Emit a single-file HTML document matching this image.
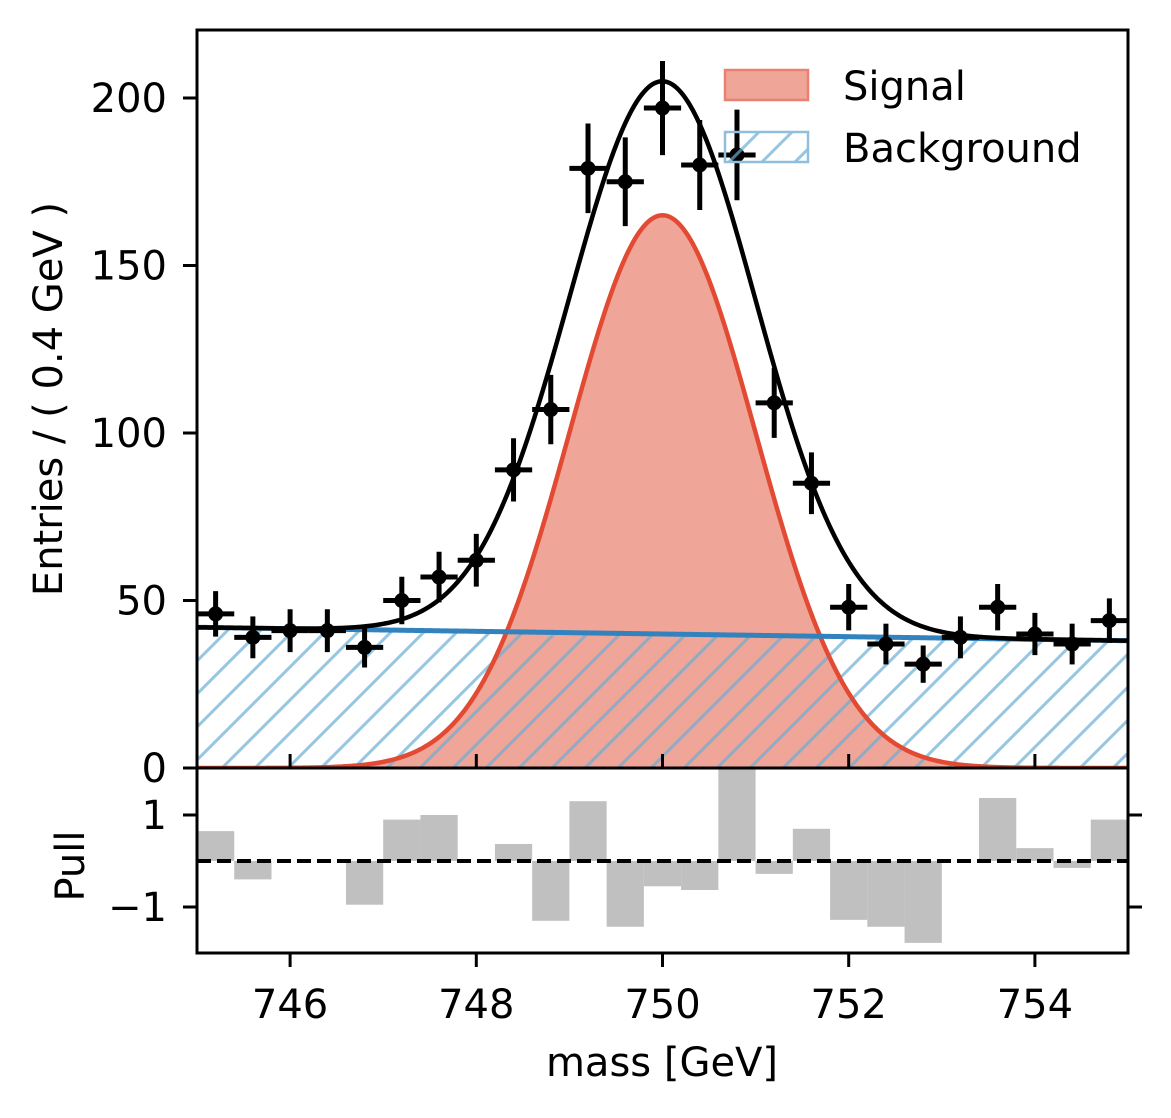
<!DOCTYPE html>
<html><head><meta charset="utf-8"><style>
body{margin:0;background:#fff}
svg text{font-family:"DejaVu Sans","Liberation Sans",sans-serif;fill:#000}
</style></head><body>
<svg id="c" width="1171" height="1113">
<defs>
<pattern id="hatch" patternUnits="userSpaceOnUse" width="33" height="33">
<path d="M-5,38 L38,-5 M-5,5 L5,-5 M28,38 L38,28" stroke="#6baed6" stroke-opacity="0.7" stroke-width="3"/>
</pattern>
<clipPath id="mainclip"><rect x="197" y="30" width="931" height="738"/></clipPath>
<clipPath id="pullclip"><rect x="197" y="768" width="931" height="185"/></clipPath>
</defs>
<g id="main" clip-path="url(#mainclip)"></g>
<g id="pull" clip-path="url(#pullclip)"></g>
<g id="axes"></g>
</svg>
<script>
const centers=[745.2,745.6,746.0,746.4,746.8,747.2,747.6,748.0,748.4,748.8,749.2,749.6,750.0,750.4,750.8,751.2,751.6,752.0,752.4,752.8,753.2,753.6,754.0,754.4,754.8];
const counts=[46,39,41,41,36,50,57,62,89,107,179,175,197,180,183,109,85,48,37,31,39,48,40,37,44];
const pulls=[0.65,-0.4,0,0,-0.95,0.9,1.0,0,0.37,-1.3,1.3,-1.43,-0.55,-0.63,2.2,-0.28,0.7,-1.28,-1.43,-1.78,0,1.37,0.28,-0.15,0.9];
const sigPeak=165, sigMu=750, sigSigma=1.0;
const bkgStart=42, bkgEnd=38;
const xTicks=[746,748,750,752,754];
const yTicks=[0,50,100,150,200];
const pullTicks=[1,-1];

const NS="http://www.w3.org/2000/svg";
const X=v=>197+(v-745)*93.1;
const Y=v=>768-v*3.35;
const PY=v=>861-v*46;
const FS=40;
function mk(t,a,p){const e=document.createElementNS(NS,t);for(const k in a)e.setAttribute(k,a[k]);(p||document.getElementById('axes')).appendChild(e);return e;}
const main=document.getElementById('main'),pull=document.getElementById('pull');
const sig=x=>sigPeak*Math.exp(-((x-sigMu)**2)/(2*sigSigma**2));
const bkg=x=>bkgStart+(bkgEnd-bkgStart)*(x-745)/10;
let sp=[],bp=[],tp=[];
for(let i=0;i<=400;i++){const x=745+i*10/400;sp.push(X(x)+','+Y(sig(x)));bp.push(X(x)+','+Y(bkg(x)));tp.push(X(x)+','+Y(sig(x)+bkg(x)));}
let e;
e=mk('polygon',{points:sp.join(' ')+' '+X(755)+','+Y(0)+' '+X(745)+','+Y(0),fill:'#efa598'},main);

e=mk('polygon',{points:bp.join(' ')+' '+X(755)+','+Y(0)+' '+X(745)+','+Y(0),fill:'url(#hatch)'},main);

e=mk('polyline',{points:sp.join(' '),fill:'none',stroke:'#e34a33','stroke-width':4.5},main);

e=mk('polyline',{points:bp.join(' '),fill:'none',stroke:'#3182bd','stroke-width':5},main);

e=mk('polyline',{points:tp.join(' '),fill:'none',stroke:'#000','stroke-width':4.5},main);

centers.forEach((c,i)=>{
 const n=counts[i],s=Math.sqrt(n);
 const g=mk('g',{},main);
 
 
 mk('line',{x1:X(c-0.2),x2:X(c+0.2),y1:Y(n),y2:Y(n),stroke:'#000','stroke-width':5},g);
 mk('line',{x1:X(c),x2:X(c),y1:Y(n-s),y2:Y(n+s),stroke:'#000','stroke-width':5},g);
 mk('circle',{cx:X(c),cy:Y(n),r:7.5,fill:'#000'},g);
 const b=mk('rect',{x:X(c-0.2),width:X(c+0.2)-X(c-0.2),y:Math.min(PY(pulls[i]),PY(0)),height:Math.abs(PY(pulls[i])-PY(0)),fill:'#c0c0c0'},pull);
 
 
});
e=mk('line',{x1:197,x2:1128,y1:PY(0),y2:PY(0),stroke:'#000','stroke-width':4,'stroke-dasharray':'14,6'},pull);

e=mk('rect',{x:197,y:30,width:931,height:738,fill:'none',stroke:'#000','stroke-width':3});

e=mk('rect',{x:197,y:768,width:931,height:185,fill:'none',stroke:'#000','stroke-width':3});

xTicks.forEach(v=>{
 mk('line',{x1:X(v),x2:X(v),y1:768,y2:754,stroke:'#000','stroke-width':3});
 mk('line',{x1:X(v),x2:X(v),y1:953,y2:967,stroke:'#000','stroke-width':3});
 const t=mk('text',{x:X(v),y:1018,'font-size':FS,'text-anchor':'middle'});t.textContent=v;
 
});
yTicks.forEach(v=>{
 mk('line',{x1:197,x2:183,y1:Y(v),y2:Y(v),stroke:'#000','stroke-width':3});
 const t=mk('text',{x:167,y:Y(v)+14,'font-size':FS,'text-anchor':'end'});t.textContent=v;
 
});
pullTicks.forEach(v=>{
 mk('line',{x1:197,x2:183,y1:PY(v),y2:PY(v),stroke:'#000','stroke-width':3});
 mk('line',{x1:1128,x2:1142,y1:PY(v),y2:PY(v),stroke:'#000','stroke-width':3});
 const t=mk('text',{x:167,y:PY(v)+14,'font-size':FS,'text-anchor':'end'});t.textContent=v==-1?'\u22121':v;
 
});
e=mk('text',{x:662,y:1076,'font-size':FS,'text-anchor':'middle'});e.textContent='mass [GeV]';

e=mk('text',{x:62,y:399,'font-size':FS,'text-anchor':'middle',transform:'rotate(-90 62 399)'});e.textContent='Entries /  ( 0.4 GeV )';

e=mk('text',{x:84,y:866,'font-size':FS,'text-anchor':'middle',transform:'rotate(-90 84 866)'});e.textContent='Pull';

let lg=mk('g',{});
mk('rect',{x:725,y:70,width:83,height:30,fill:'#efa598',stroke:'#ea8070','stroke-width':2.5},lg);
let t=mk('text',{x:843,y:100,'font-size':FS},lg);t.textContent='Signal';
lg=mk('g',{});
mk('rect',{x:725,y:132,width:83,height:30,fill:'url(#hatch)',stroke:'#8fbfdd','stroke-width':2.5},lg);
t=mk('text',{x:843,y:162,'font-size':FS},lg);t.textContent='Background';
</script>
</body></html>
